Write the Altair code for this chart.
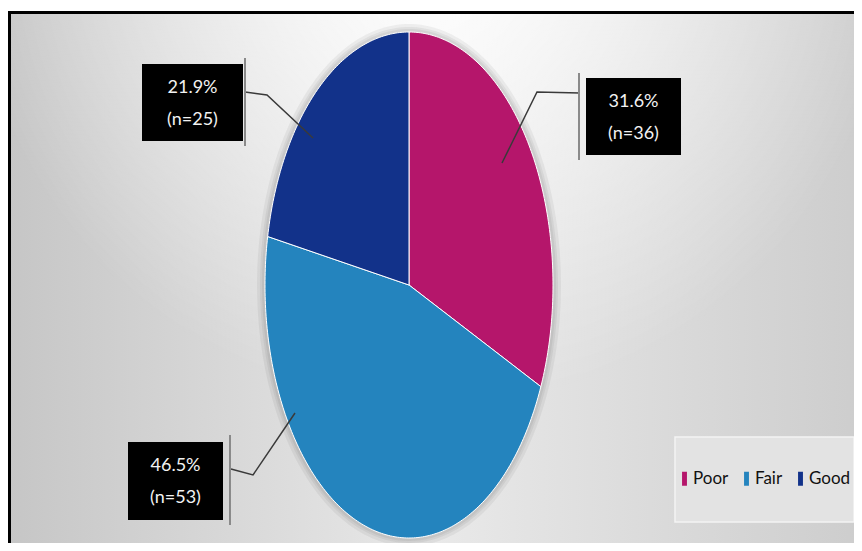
import altair as alt
import pandas as pd
import numpy as np

# ---- data ----
categories = ["Poor", "Fair", "Good"]
counts = [36, 53, 25]
colors = ["#B5166B", "#2484BE", "#12328A"]

# ---- layout (page pixels) ----
W, H = 846, 535
OFF = 8
CX, CY, RX, RY = 409, 285, 144, 253
FONT = "Lato, Roboto, sans-serif"

box_x0 = {"Poor": 586, "Fair": 128, "Good": 142}
box_x1 = {"Poor": 681, "Fair": 223, "Good": 243}
box_y0 = {"Poor": 78, "Fair": 442, "Good": 64}
box_y1 = {"Poor": 155, "Fair": 520, "Good": 141}
bar_x = {"Poor": 579, "Fair": 230, "Good": 245}
bar_y0 = {"Poor": 73, "Fair": 435, "Good": 58}
bar_y1 = {"Poor": 160, "Fair": 525, "Good": 146}
leader_pts = {
    "Poor": [(580, 93), (537, 92), (502, 163)],
    "Fair": [(231, 469), (253, 475), (295, 413)],
    "Good": [(245, 92), (267, 95), (313, 138)],
}

total = sum(counts)

# pie wedges on an elliptical frame
rows = []
start = 0.0
for cat, c in zip(categories, counts):
    frac = c / total
    n = max(int(frac * 400), 12)
    th = np.linspace(start, start + frac, n) * 2 * np.pi
    pts = [(CX, CY)] + [(CX + RX * np.sin(t), CY - RY * np.cos(t)) for t in th] + [(CX, CY)]
    for i, (x, y) in enumerate(pts):
        rows.append({"category": cat, "i": i, "x": x - OFF, "y": y - OFF})
    start += frac
pie_df = pd.DataFrame(rows)

# soft halo around the pie
halo_rows = []
for k, grow in enumerate([8, 5, 3]):
    th = np.linspace(0, 2 * np.pi, 240)
    for i, t in enumerate(th):
        halo_rows.append({"ring": k, "i": i,
                          "x": CX + (RX + grow) * np.sin(t) - OFF,
                          "y": CY - (RY + grow) * np.cos(t) - OFF})
halo_df = pd.DataFrame(halo_rows)

lab_rows = []
for cat, c in zip(categories, counts):
    pct = 100 * c / total
    lab_rows.append({
        "category": cat,
        "pct": f"{pct:.1f}%",
        "ntxt": f"(n={c})",
        "x0": box_x0[cat] - OFF, "x1": box_x1[cat] - OFF,
        "y0": box_y0[cat] - OFF, "y1": box_y1[cat] - OFF,
        "xc": (box_x0[cat] + box_x1[cat]) / 2 - OFF,
        "yc": (box_y0[cat] + box_y1[cat]) / 2 - OFF,
        "bx": bar_x[cat] - OFF, "by0": bar_y0[cat] - OFF, "by1": bar_y1[cat] - OFF,
    })
lab_df = pd.DataFrame(lab_rows)

lead_rows = []
for cat in categories:
    for i, (x, y) in enumerate(leader_pts[cat]):
        lead_rows.append({"category": cat, "i": i, "x": x - OFF, "y": y - OFF})
lead_df = pd.DataFrame(lead_rows)

xs = alt.Scale(domain=[0, W], nice=False, zero=False)
ys = alt.Scale(domain=[H, 0], nice=False, zero=False)

one = pd.DataFrame({"k": [0]})

bg = alt.Chart(one).mark_rect(
    fill=alt.Gradient(
        gradient="linear",
        stops=[
            alt.GradientStop(color="#c6c6c6", offset=0),
            alt.GradientStop(color="#e9e9e9", offset=0.5),
            alt.GradientStop(color="#cdcdcd", offset=1),
        ],
        x1=0, y1=0.5, x2=1, y2=0.5,
    ),
    stroke="black", strokeWidth=3,
).encode(x=alt.value(1.5), x2=alt.value(W + 10), y=alt.value(4.5), y2=alt.value(H + 10))

glow = alt.Chart(one).mark_rect(
    fill=alt.Gradient(
        gradient="radial",
        stops=[
            alt.GradientStop(color="rgba(255,255,255,1)", offset=0),
            alt.GradientStop(color="rgba(255,255,255,0.55)", offset=0.45),
            alt.GradientStop(color="rgba(255,255,255,0)", offset=1),
        ],
        x1=0.5, y1=0.1, x2=0.5, y2=0.1, r1=0, r2=0.55,
    ),
).encode(x=alt.value(3), x2=alt.value(W), y=alt.value(6), y2=alt.value(H))

legend_box = alt.Chart(one).mark_rect(
    fill="#e3e3e3", stroke="#f4f4f4", strokeWidth=1.5
).encode(x=alt.value(675 - OFF), x2=alt.value(854 - OFF), y=alt.value(437 - OFF), y2=alt.value(522 - OFF))

halo = alt.Chart(halo_df).mark_line(filled=True, color="black", fillOpacity=0.05, strokeOpacity=0).encode(
    x=alt.X("x:Q", scale=xs, axis=None),
    y=alt.Y("y:Q", scale=ys, axis=None),
    detail="ring:N",
    order=alt.Order("i:Q"),
)

pie = alt.Chart(pie_df).mark_line(filled=True, stroke="white", strokeWidth=1, strokeJoin="round").encode(
    x=alt.X("x:Q", scale=xs, axis=None),
    y=alt.Y("y:Q", scale=ys, axis=None),
    order=alt.Order("i:Q"),
    color=alt.Color(
        "category:N",
        scale=alt.Scale(domain=categories, range=colors),
        sort=categories,
        legend=alt.Legend(
            title=None, orient="none", legendX=676 - OFF, legendY=470 - OFF,
            direction="horizontal", symbolType="M-0.35,-1H0.35V1H-0.35Z",
            symbolSize=196, symbolStrokeWidth=0, labelFont=FONT, labelFontSize=17,
            labelColor="#111111", columnPadding=9, labelOffset=0, padding=0,
        ),
    ),
)

leaders = alt.Chart(lead_df).mark_line(color="#3a3a3a", strokeWidth=1.5).encode(
    x=alt.X("x:Q", scale=xs, axis=None),
    y=alt.Y("y:Q", scale=ys, axis=None),
    detail="category:N",
    order=alt.Order("i:Q"),
)

bars = alt.Chart(lab_df).mark_rule(color="#8a8a8a", strokeWidth=2).encode(
    x=alt.X("bx:Q", scale=xs, axis=None),
    y=alt.Y("by0:Q", scale=ys, axis=None),
    y2="by1:Q",
)

boxes = alt.Chart(lab_df).mark_rect(color="black").encode(
    x=alt.X("x0:Q", scale=xs, axis=None),
    x2="x1:Q",
    y=alt.Y("y0:Q", scale=ys, axis=None),
    y2="y1:Q",
)

t1 = alt.Chart(lab_df).mark_text(font=FONT, fontSize=18, color="#f2f2f2", baseline="middle", dy=-15).encode(
    x=alt.X("xc:Q", scale=xs, axis=None),
    y=alt.Y("yc:Q", scale=ys, axis=None),
    text="pct:N",
)
t2 = alt.Chart(lab_df).mark_text(font=FONT, fontSize=18, color="#f2f2f2", baseline="middle", dy=17).encode(
    x=alt.X("xc:Q", scale=xs, axis=None),
    y=alt.Y("yc:Q", scale=ys, axis=None),
    text="ntxt:N",
)

chart = alt.layer(bg, glow, legend_box, halo, pie, leaders, bars, boxes, t1, t2).properties(
    width=W, height=H, padding=0, autosize=alt.AutoSizeParams(type="none"), background="white"
).configure_view(stroke=None)

chart.save("out.html", embed_options={"renderer": "svg", "actions": False})
